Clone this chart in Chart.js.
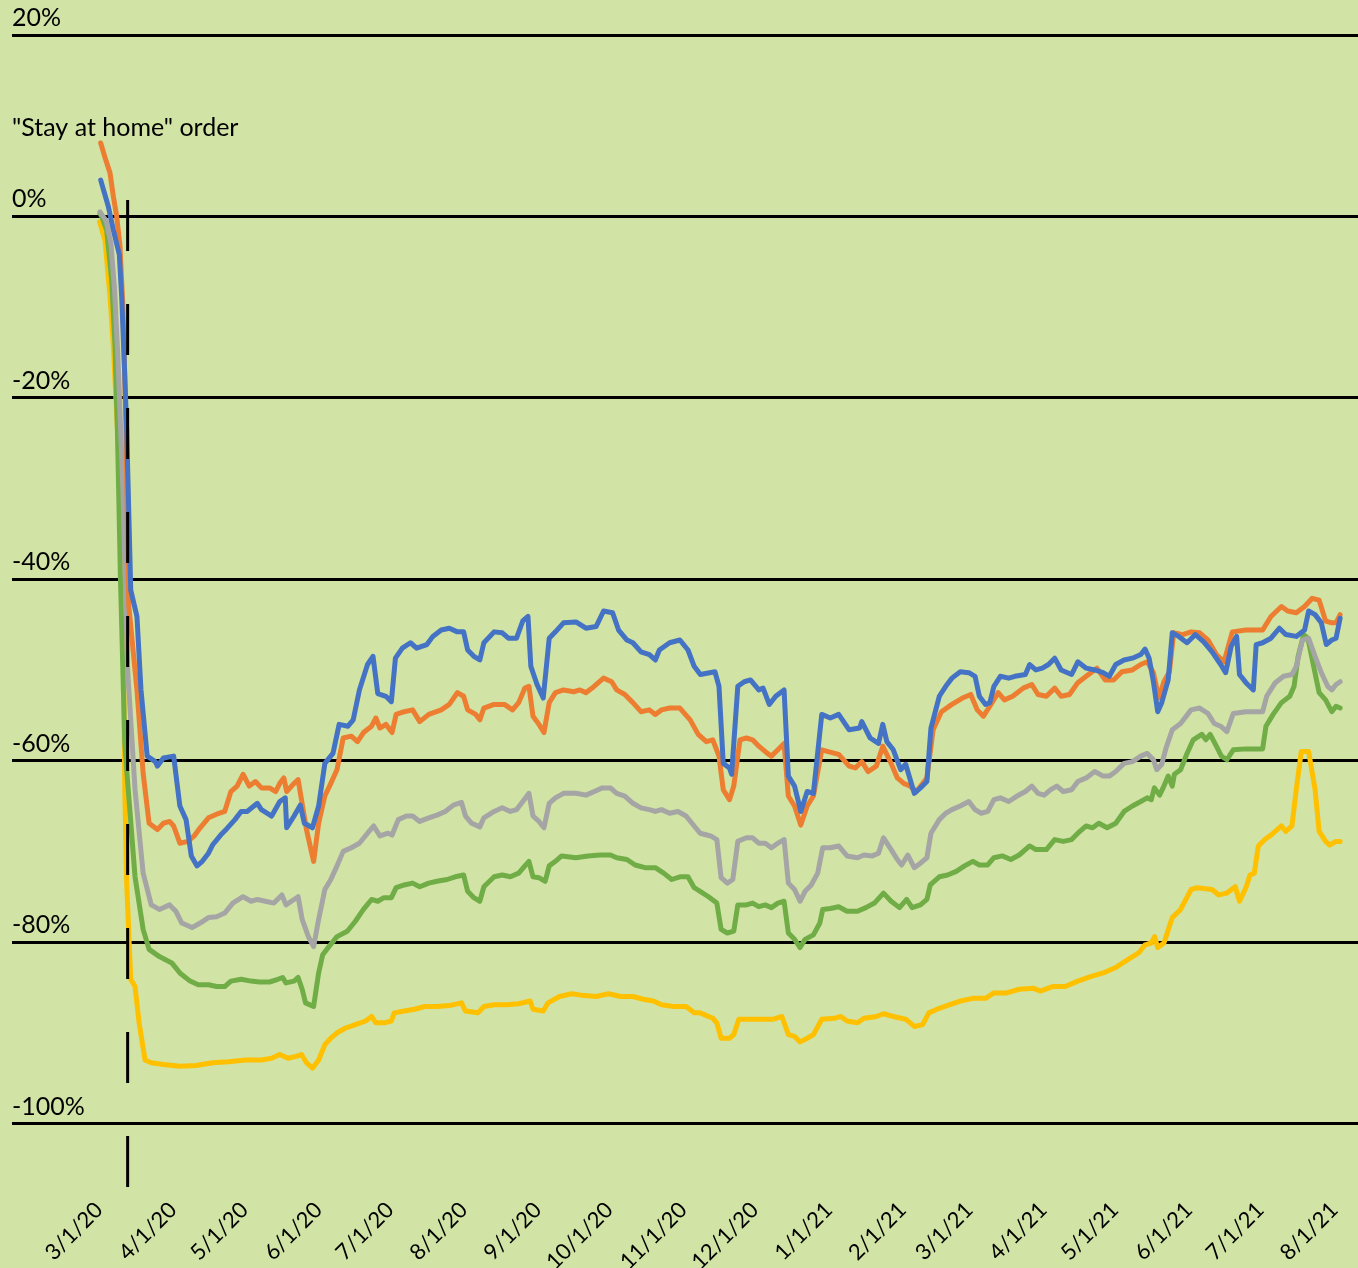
<!DOCTYPE html>
<html>
<head>
<meta charset="utf-8">
<script src="https://cdn.jsdelivr.net/npm/chart.js@4.4.1/dist/chart.umd.min.js"></script>
<style>
  html, body { margin: 0; padding: 0; background: #d1e3a5; }
  #wrap { width: 1358px; height: 1268px; }
</style>
</head>
<body>
<div id="wrap"><canvas id="chart" width="1358" height="1268"></canvas></div>
<script>
'use strict';

// x values are days counted from 3/1/20
var startDate = Date.UTC(2020, 2, 1);
var tickLabels = ['3/1/20', '4/1/20', '5/1/20', '6/1/20', '7/1/20', '8/1/20', '9/1/20', '10/1/20',
  '11/1/20', '12/1/20', '1/1/21', '2/1/21', '3/1/21', '4/1/21', '5/1/21', '6/1/21', '7/1/21', '8/1/21'];
var yTicks = [-100, -80, -60, -40, -20, 0, 20];

var orderDay = 12;          // "Stay at home" order
var orderLabel = '"Stay at home" order';

var blue = [[0.7,4.0],[3.9,1.1],[6,-1.5],[8.5,-4.2],[9.5,-8.8],[10.6,-16.1],[11.6,-23.5],[13.3,-41.2],[15.9,-44.1],[17.6,-52.2],[20.2,-59.5],[23.6,-60.1],[24.5,-60.6],[27,-59.7],[31.3,-59.5],[33.9,-65],[36.5,-66.5],[38.7,-70.5],[41.1,-71.6],[43.3,-71.1],[45.9,-70.2],[47.6,-69.3],[51,-68.2],[53.6,-67.5],[57,-66.5],[59.6,-65.6],[62.1,-65.6],[66.4,-64.7],[68.1,-65.4],[72.4,-66.1],[75.8,-64.5],[78.1,-64.1],[78.7,-67.4],[81.8,-66.1],[84.4,-64.9],[86.1,-66.9],[89.5,-67.4],[92.1,-65],[94.7,-60.3],[98.1,-59.2],[100.7,-56],[104.4,-56.2],[106.6,-55.5],[109.2,-52.2],[112.6,-49.4],[114.9,-48.5],[116.9,-52.6],[120.3,-52.9],[122.6,-53.5],[124.3,-48.7],[127.2,-47.6],[130.6,-47],[133.2,-47.6],[137.5,-47.2],[140,-46.3],[143.5,-45.6],[146.9,-45.4],[150.3,-45.8],[152.9,-45.8],[154.6,-47.8],[157.2,-48.5],[159.7,-48.9],[161.4,-47],[165.7,-45.8],[169.1,-45.9],[171.7,-46.5],[175.1,-46.5],[177.7,-44.6],[179.9,-44.1],[181.1,-49.6],[183.7,-51.6],[186.3,-53.1],[188.8,-46.5],[191.4,-45.8],[194.8,-44.8],[200,-44.7],[204.2,-45.4],[208.5,-45.2],[211.6,-43.5],[215.4,-43.7],[217.9,-45.6],[221.4,-46.7],[223.9,-47],[227.3,-48],[230.8,-48.3],[233.3,-48.9],[235,-47.8],[239.3,-47],[243.6,-46.7],[247,-47.8],[249.6,-49.6],[252.2,-50.5],[258.3,-50.2],[260,-51.8],[261.8,-60.3],[264.4,-60.8],[265.3,-61.5],[267.9,-51.8],[270.6,-51.3],[273.2,-51.1],[276.7,-52.2],[278.5,-52],[281.1,-53.8],[283.8,-52.9],[287.3,-52.2],[289.1,-61.7],[291.7,-62.8],[294.3,-65.6],[297,-63.4],[299.6,-63.6],[303.1,-54.9],[306.7,-55.3],[310.2,-54.9],[314.6,-56.6],[319,-56.4],[319.9,-55.7],[323.4,-57.5],[326.9,-58.1],[328.7,-56],[330.4,-57.9],[333.1,-58.8],[336.2,-61],[338.3,-60.4],[341.9,-63.6],[344.5,-63],[347.2,-62.3],[348.9,-56.4],[352.4,-52.9],[355.1,-51.8],[357.7,-50.9],[361.2,-50.2],[364.8,-50.3],[367.4,-50.7],[369.2,-52.9],[371.8,-53.8],[373.6,-53.6],[375.3,-51.8],[378,-50.7],[381.5,-50.9],[384.1,-50.7],[388.5,-50.5],[390.3,-49.4],[392.9,-50],[395.6,-49.8],[398.2,-49.4],[400.8,-48.7],[403.5,-50],[407.9,-50.5],[410.5,-49.1],[414,-49.8],[417.6,-50],[421.1,-50.3],[423.7,-50.7],[426.4,-49.4],[429.9,-48.9],[433.4,-48.7],[436.9,-48.3],[438.7,-47.7],[440.4,-48.7],[442.2,-51.3],[444,-54.6],[445.7,-53.6],[448.4,-51.1],[450.1,-45.9],[452.8,-46.3],[456.3,-47],[459.8,-46.1],[463.3,-46.9],[466.8,-48],[470.4,-49.4],[472.5,-50.3],[474.8,-47.4],[477.1,-46.3],[478.3,-50.5],[481,-51.4],[484.1,-52.2],[485.3,-47.2],[488,-47],[491.5,-46.5],[495,-45.4],[497.7,-46.1],[502.1,-46.3],[505.6,-45.6],[507.3,-43.5],[510,-43.9],[512.6,-44.8],[514.7,-47.2],[517,-46.7],[518.8,-46.5],[520.5,-44.3]];

var orange = [[0.7,8.1],[2.5,6.5],[4.6,4.8],[6,2.2],[7.4,0],[8.8,-3.3],[10,-10],[11.2,-22],[12.5,-43],[15.9,-52.2],[18.5,-61.4],[21,-66.9],[24.5,-67.6],[27,-66.9],[29.6,-66.7],[31.3,-67.2],[33.9,-69.1],[37.3,-68.9],[39.9,-68.3],[42.4,-67.4],[45.9,-66.3],[49.3,-65.9],[52.7,-65.6],[55.3,-63.4],[57.9,-62.8],[60.4,-61.5],[63,-62.8],[65.6,-62.3],[68.1,-63],[71.5,-63],[74.1,-63.4],[75.8,-62.5],[77.5,-61.9],[78.7,-63.4],[81.8,-62.5],[83.5,-62.1],[84.9,-64.3],[87,-67.6],[90,-71.1],[92.1,-66.9],[94.7,-63.9],[97.2,-62.5],[99.8,-61],[102.4,-57.5],[105.8,-57.3],[108.4,-57.9],[110.9,-56.9],[114.3,-56.2],[116.1,-55.3],[117.8,-56.4],[120.3,-56],[122.9,-56.9],[124.6,-54.9],[128,-54.6],[131.5,-54.4],[134.5,-55.7],[138.3,-54.9],[143.5,-54.4],[146.9,-53.8],[150.3,-52.5],[152.9,-52.9],[154.6,-54.4],[158,-54.9],[159.7,-55.5],[161.4,-54.2],[165.7,-53.8],[170,-53.8],[173.4,-54.4],[176,-53.6],[178.6,-52],[180.3,-51.8],[182,-55.1],[184.5,-56],[186.6,-56.9],[188.8,-53.6],[191.4,-52.5],[194.8,-52.2],[199.1,-52.4],[201.7,-52.2],[204.2,-52.5],[206.8,-52],[209.4,-51.4],[211.6,-50.9],[215,-51.3],[217.1,-52.2],[220.5,-52.7],[223.9,-53.6],[227.3,-54.6],[230.8,-54.4],[233.3,-54.9],[235.9,-54.4],[239.3,-54.2],[243.6,-54.2],[247.9,-55.5],[251.3,-57.1],[254.7,-57.9],[257.4,-57.7],[260,-59.5],[261.8,-63.2],[264.4,-64.3],[266.2,-62.8],[268.8,-57.7],[271.5,-57.5],[274.1,-57.7],[276.7,-58.4],[280.3,-59.2],[282,-59.5],[284.7,-58.8],[287.3,-58.1],[289.1,-63.9],[291.7,-65],[294.3,-67.1],[297,-65],[299.6,-63.9],[303.1,-58.8],[305.8,-59],[310.2,-59.3],[314.6,-60.6],[317.2,-60.8],[319.9,-60.1],[322.5,-61.2],[326,-60.6],[328.7,-58.4],[332.2,-60.3],[334.8,-61.9],[337.5,-62.5],[340.1,-62.8],[342.8,-63.4],[347.2,-61.9],[349.8,-56.6],[353.3,-54.6],[357.7,-53.8],[362.1,-53.1],[365.6,-52.7],[368.3,-54.4],[370.9,-55.1],[373.6,-54],[377.1,-52.5],[379.7,-53.3],[383.2,-52.9],[387.6,-52],[391.2,-51.6],[393.8,-52.7],[397.3,-52.9],[400.8,-52],[403.5,-52.9],[407,-52.7],[410.5,-51.4],[414,-50.7],[418.5,-49.8],[421.9,-51.1],[425.5,-51.1],[429,-50.2],[433.4,-50],[436.9,-49.4],[439.6,-49.1],[442.2,-50.3],[444.5,-53.1],[446.6,-51.3],[448.9,-50.2],[450.7,-45.9],[454.5,-46.1],[458,-45.8],[461.6,-45.9],[465.1,-46.7],[468.6,-48.3],[471.8,-49.1],[475.3,-45.8],[481,-45.6],[488,-45.6],[491.5,-44.1],[495.9,-43],[498.5,-43.5],[502.1,-43.7],[505.6,-43],[508.8,-42.1],[511.7,-42.3],[514.4,-44.6],[517,-44.8],[518.8,-44.8],[520.5,-43.9]];

var grey = [[0.4,0.5],[3,-0.5],[5,-3],[6.5,-8],[8,-16],[10,-30],[12,-50],[15.1,-63.2],[18.5,-72.4],[21.9,-75.9],[25.3,-76.4],[29.6,-75.9],[32.2,-76.6],[34.7,-77.9],[39,-78.4],[42.4,-77.9],[45.9,-77.3],[49.3,-77.2],[52.7,-76.8],[56.1,-75.7],[60.4,-75],[63.8,-75.5],[66.4,-75.3],[69.8,-75.5],[73.3,-75.7],[76.7,-74.8],[78.4,-75.9],[81.8,-75.3],[83.5,-75],[85.2,-77.5],[87.8,-79.4],[90,-80.5],[92.1,-77.5],[94.7,-74.2],[97.2,-73.1],[99.8,-71.6],[102.4,-70],[105.8,-69.6],[109.2,-69.1],[112.6,-68],[115.2,-67.2],[117.8,-68.3],[121.2,-68],[122.9,-68.2],[125.5,-66.5],[128.9,-66.1],[131.5,-66.1],[134.5,-66.7],[138.3,-66.3],[141.7,-66],[145.2,-65.6],[148.6,-64.9],[152,-64.6],[153.7,-66.1],[156.3,-66.9],[159.7,-67.3],[161.4,-66.3],[165.7,-65.6],[169.1,-65.2],[172.5,-65.6],[175.1,-65.4],[177.7,-64.5],[180.3,-63.6],[182,-66.1],[184.5,-66.7],[186.6,-67.4],[188.8,-64.7],[191.4,-64.1],[194.8,-63.6],[200,-63.6],[204.2,-63.8],[207.7,-63.4],[211.1,-63],[214.5,-63],[217.1,-63.6],[220.5,-63.9],[223.9,-64.7],[227.3,-65.2],[230.8,-65.4],[233.3,-65.6],[235.9,-65.4],[239.3,-65.8],[242.8,-65.6],[246.2,-66.1],[249.6,-67.2],[252.1,-68],[256.5,-68.3],[259.1,-68.7],[260.9,-72.9],[263.5,-73.5],[265.8,-73.1],[267.9,-68.9],[271.5,-68.5],[274.1,-68.5],[276.7,-69.1],[279.4,-69.1],[282,-69.6],[284.7,-69.1],[287.3,-68.7],[289.1,-73.5],[291.7,-74.2],[294,-75.5],[296.1,-74.4],[298.7,-73.7],[301.4,-72.4],[303.5,-69.6],[306.7,-69.6],[310.2,-69.4],[313.7,-70.5],[318.1,-70.7],[320.8,-70.4],[324.3,-70.5],[326.9,-70.2],[329,-68.5],[332.2,-69.8],[334.8,-70.9],[336.6,-71.5],[339.2,-70.4],[341.9,-71.8],[344.5,-71.3],[347.2,-70.7],[348.9,-68],[352.4,-66.5],[355.1,-65.8],[357.7,-65.4],[361.2,-65],[364.8,-64.5],[367.4,-65.4],[370,-65.8],[372.7,-65.6],[375.3,-64.3],[378,-64.1],[381.5,-64.5],[385,-63.9],[388.5,-63.4],[391.2,-62.8],[393.8,-63.6],[396.4,-63.8],[399.1,-63.2],[401.7,-62.8],[404.4,-63.4],[407.9,-63.2],[410.5,-62.3],[414,-61.9],[417.6,-61.2],[421.1,-61.7],[423.7,-61.7],[426.4,-61.2],[429.9,-60.3],[433.4,-60.1],[436.9,-59.5],[439.6,-59.2],[442.2,-59.9],[443.6,-61],[445.7,-60.4],[447.5,-58.6],[450.1,-56.6],[453.6,-55.9],[458,-54.4],[461.6,-54.2],[465.1,-54.8],[467.7,-55.9],[470.4,-56.2],[473,-56.8],[475.7,-54.8],[481,-54.6],[488,-54.6],[489.7,-52.9],[493.3,-51.4],[496.8,-50.7],[500.3,-50.5],[502.1,-49.6],[504.7,-46.7],[507.3,-46.5],[510,-48.5],[512.6,-50.3],[515.3,-51.8],[517,-52.2],[518.8,-51.6],[520.5,-51.3]];

var green = [[0.4,0.3],[1.1,0],[3.2,-1.5],[5.3,-7],[6.7,-14.3],[7.7,-23.5],[9,-40],[10.8,-58],[11.6,-61],[15.1,-72.8],[18.5,-78.6],[21,-80.8],[25.3,-81.6],[30.5,-82.3],[33.9,-83.4],[38.2,-84.3],[41.6,-84.7],[45.9,-84.7],[49.3,-84.9],[52.7,-84.9],[55.3,-84.3],[59.6,-84.1],[63.8,-84.3],[67.3,-84.4],[71.5,-84.4],[75,-84.1],[77,-83.9],[78.4,-84.5],[81.8,-84.3],[83.5,-83.9],[85.2,-85.2],[86.6,-86.7],[90,-87.1],[92.1,-83.4],[93.8,-81.4],[96.4,-80.5],[99.8,-79.4],[104.1,-78.8],[107.5,-77.7],[110.9,-76.4],[114.3,-75.3],[116.9,-75.5],[119.5,-75.1],[122.6,-75.1],[124.6,-74],[128,-73.7],[131.5,-73.5],[134.5,-73.9],[138.3,-73.5],[141.7,-73.3],[146,-73.1],[149.4,-72.8],[152.9,-72.6],[154.6,-74.4],[157.2,-75.1],[159.7,-75.5],[161.4,-73.9],[165.7,-72.8],[169.1,-72.6],[172.5,-72.8],[176,-72.4],[178.6,-71.6],[180.3,-71.1],[182,-72.8],[184.5,-72.9],[187.1,-73.3],[188.8,-71.6],[191.4,-71.1],[194,-70.5],[200,-70.7],[205.1,-70.5],[210.2,-70.4],[214.5,-70.4],[217.1,-70.7],[221.4,-70.9],[224.8,-71.5],[229,-71.8],[233.3,-71.8],[236.8,-72.4],[240.2,-73.1],[243.6,-72.8],[247,-72.8],[249.6,-74],[252.1,-74.4],[255.6,-75],[259.1,-75.7],[260.9,-78.6],[263.5,-79],[266.2,-78.8],[267.9,-75.9],[271.5,-75.9],[274.1,-75.7],[276.7,-76.1],[279.4,-75.9],[282,-76.2],[284.7,-75.7],[287.3,-75.5],[289.1,-79],[291.7,-79.7],[294,-80.6],[296.1,-79.7],[299.6,-79.2],[302.3,-77.9],[303.5,-76.4],[306.7,-76.3],[310.2,-76.1],[313.7,-76.6],[318.1,-76.6],[321.6,-76.2],[325.2,-75.7],[329,-74.6],[332.2,-75.5],[335.7,-76.2],[338.7,-75.3],[341,-76.2],[344.5,-75.9],[347.2,-75.3],[348.6,-73.7],[352.4,-72.8],[355.9,-72.6],[359.5,-72.2],[363,-71.6],[366.5,-71.1],[369.2,-71.5],[372.7,-71.5],[375.3,-70.7],[378.8,-70.5],[382.4,-70.9],[385.9,-70.4],[390.3,-69.4],[392.9,-69.8],[397.3,-69.8],[400.8,-68.7],[404.4,-68.9],[407.9,-68.7],[410.5,-68],[414,-67.2],[416.7,-67.4],[419.3,-66.9],[422.8,-67.4],[426.4,-66.9],[429.9,-65.6],[433.4,-65],[436.9,-64.5],[439.6,-64.1],[441.3,-64.3],[442.6,-63],[444.8,-63.8],[446.6,-62.8],[448.4,-61.7],[450.1,-62.8],[451,-61.5],[453.6,-61],[456.3,-59.2],[458.9,-57.7],[462.5,-57.1],[464.2,-57.7],[466,-57.1],[468.6,-58.4],[470.7,-59.5],[473,-59.9],[475.7,-58.8],[481,-58.7],[488,-58.7],[489.4,-56.2],[492.4,-54.9],[495.9,-53.6],[499.4,-52.9],[501.2,-51.8],[502.9,-48.5],[505.2,-46.1],[507,-46.5],[509.1,-49.2],[511.7,-52.5],[514.4,-53.3],[517,-54.6],[518.8,-54],[520.5,-54.2]];

var yellow = [[0.2,-0.6],[2.5,-2.6],[4.6,-8.8],[6,-14.3],[8,-25],[10,-40],[10.8,-63.2],[11.6,-73.5],[13.3,-84.1],[15.1,-84.9],[16.8,-88.9],[19.3,-93],[21.9,-93.3],[27,-93.5],[33.9,-93.7],[40.7,-93.6],[47.6,-93.3],[54.4,-93.2],[61.3,-93],[68.1,-93],[72.4,-92.8],[75.8,-92.4],[79.3,-92.8],[82.7,-92.6],[84.9,-92.4],[87,-93.3],[89.5,-93.9],[92.1,-93],[94.7,-91.3],[97.2,-90.6],[99.8,-90],[103.2,-89.5],[107.5,-89.1],[111.8,-88.7],[114.3,-88.2],[116.1,-88.9],[119.5,-88.9],[122.6,-88.7],[123.8,-87.8],[128,-87.6],[132.3,-87.4],[136.6,-87.1],[141.7,-87.1],[146.9,-87],[152,-86.7],[153.7,-87.6],[158.9,-87.8],[161.4,-87.1],[165.7,-86.9],[170.8,-86.9],[176,-86.8],[180.8,-86.5],[182,-87.4],[186.3,-87.6],[188.3,-86.7],[193.1,-86],[198.2,-85.7],[203.4,-85.9],[208.5,-86],[213.6,-85.7],[218.8,-86],[223.9,-86],[228.2,-86.3],[232.5,-86.5],[235.9,-86.9],[241,-87.1],[246.2,-87.1],[249.6,-87.8],[252.1,-87.8],[257.4,-88.4],[259.1,-88.9],[260.9,-90.6],[264.4,-90.6],[266.2,-90.2],[268.3,-88.5],[273.2,-88.5],[278.5,-88.5],[282.9,-88.5],[286.4,-88.2],[289.1,-90.2],[291.7,-90.4],[294,-91],[297,-90.6],[299.6,-90.2],[303.1,-88.5],[308.4,-88.4],[311.1,-88.2],[313.7,-88.7],[318.1,-88.9],[320.8,-88.4],[326,-88.2],[329,-87.9],[333.1,-88.2],[338.3,-88.5],[341.9,-89.3],[345.4,-89.1],[348,-87.8],[352.4,-87.3],[356.8,-86.9],[361.2,-86.5],[366.5,-86.2],[371.8,-86.2],[375.3,-85.6],[380.6,-85.6],[385.9,-85.2],[392,-85.1],[394.7,-85.4],[399.9,-84.9],[405.2,-84.9],[410.5,-84.3],[415.8,-83.8],[421.1,-83.4],[426.4,-82.8],[431.6,-81.9],[436,-81.2],[438.7,-80.3],[441.3,-80.1],[442.7,-79.4],[444,-80.6],[446.6,-80.1],[447.5,-79.4],[450.1,-77.3],[453.6,-76.4],[458,-74.2],[460.7,-74],[466.8,-74.2],[469.5,-74.8],[473,-74.6],[476.5,-73.9],[478.3,-75.5],[481,-74],[482.7,-72.6],[484.5,-72.4],[486.2,-69.4],[488.9,-68.7],[491.5,-68.2],[495.9,-67.2],[497.7,-67.8],[500.3,-67.2],[502.1,-63.2],[504.2,-59],[507.3,-59],[510,-63.2],[511.7,-67.8],[514.4,-68.9],[516.1,-69.3],[518.8,-68.9],[520.5,-68.9]];

var FONT = 'Lato, "Open Sans", sans-serif';

function labelToDay(s) {
  var p = s.split('/');
  return Math.round((Date.UTC(2000 + (+p[2]), +p[0] - 1, +p[1]) - startDate) / 86400000);
}
var tickDays = tickLabels.map(labelToDay);

function makeLine(data, color) {
  return {
    data: data,
    borderColor: color,
    backgroundColor: color,
    borderWidth: 5,
    pointRadius: 0,
    tension: 0,
    fill: false,
    borderJoinStyle: 'round',
    borderCapStyle: 'round'
  };
}

var backgroundPlugin = {
  id: 'bg',
  beforeDraw: function (chart) {
    var ctx = chart.ctx;
    ctx.save();
    ctx.fillStyle = '#d1e3a5';
    ctx.fillRect(0, 0, chart.width, chart.height);
    ctx.restore();
  }
};

// dashed marker for the stay at home order, plus its caption
var orderPlugin = {
  id: 'order',
  afterDatasetsDraw: function (chart) {
    var ctx = chart.ctx;
    var xs = chart.scales.x, ys = chart.scales.y;
    var x = xs.getPixelForValue(orderDay);
    ctx.save();
    ctx.strokeStyle = '#000';
    ctx.lineWidth = 3;
    ctx.setLineDash([51, 53]);
    ctx.beginPath();
    ctx.moveTo(x, ys.getPixelForValue(1.8));
    ctx.lineTo(x, chart.chartArea.bottom);
    ctx.stroke();
    ctx.restore();
  },
  afterDraw: function (chart) {
    var ctx = chart.ctx;
    var ys = chart.scales.y;
    ctx.save();
    ctx.fillStyle = '#000';
    ctx.font = '25px ' + FONT;
    ctx.textAlign = 'left';
    ctx.textBaseline = 'middle';
    ctx.fillText(orderLabel, chart.chartArea.left, ys.getPixelForValue(9.7));
    ctx.restore();
  }
};

new Chart(document.getElementById('chart'), {
  type: 'line',
  data: {
    datasets: [
      makeLine(blue, '#4472c4'),
      makeLine(orange, '#ed7d31'),
      makeLine(grey, '#a5a5a5'),
      makeLine(green, '#70ad47'),
      makeLine(yellow, '#ffc000')
    ]
  },
  options: {
    responsive: false,
    animation: false,
    devicePixelRatio: 1,
    layout: { padding: { top: 35, left: 12, right: 0, bottom: 0 } },
    plugins: {
      legend: { display: false },
      title: { display: false },
      tooltip: { enabled: false }
    },
    scales: {
      x: {
        type: 'linear',
        min: -36.5,
        max: 528,
        grid: { display: false },
        border: { display: false },
        afterBuildTicks: function (scale) {
          scale.ticks = tickDays.map(function (d) { return { value: d }; });
        },
        afterFit: function (scale) {
          scale.height = 81;
        },
        ticks: {
          autoSkip: false,
          minRotation: 45,
          maxRotation: 45,
          padding: 2,
          color: '#000',
          font: { family: FONT, size: 22 },
          callback: function (v) {
            var i = tickDays.indexOf(v);
            return i >= 0 ? tickLabels[i] : '';
          }
        }
      },
      y: {
        min: -107,
        max: 20,
        afterBuildTicks: function (scale) {
          scale.ticks = yTicks.map(function (v) { return { value: v }; });
        },
        grid: { color: '#000', lineWidth: 3, drawTicks: false },
        border: { display: false },
        ticks: {
          mirror: true,
          padding: 0,
          labelOffset: -17,
          color: '#000',
          font: { family: FONT, size: 25 },
          callback: function (v) { return v + '%'; }
        }
      }
    }
  },
  plugins: [backgroundPlugin, orderPlugin]
});
</script>
</body>
</html>
